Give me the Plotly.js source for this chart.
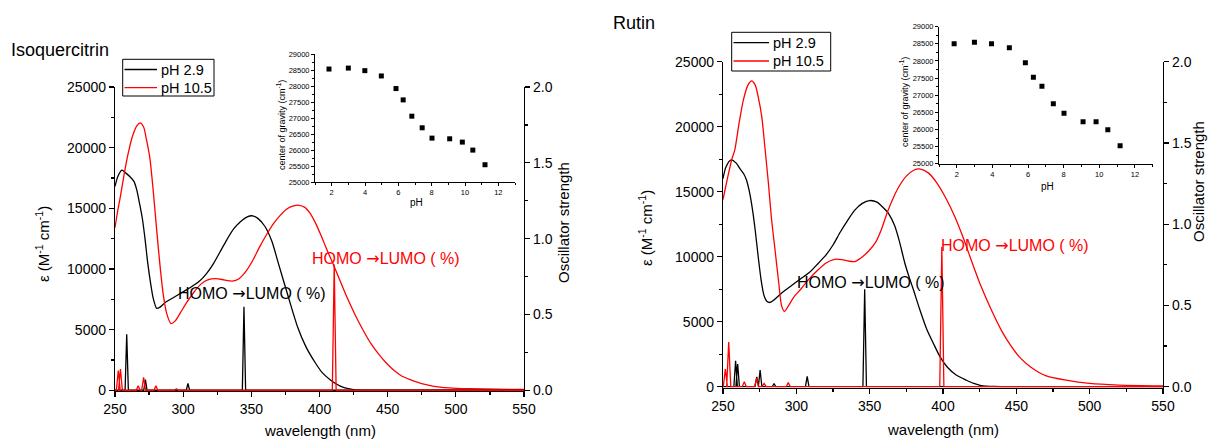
<!DOCTYPE html>
<html><head><meta charset="utf-8">
<script src="https://cdn.plot.ly/plotly-3.0.1.min.js"></script>
<style>html,body{margin:0;padding:0;background:#fff}#chart{width:1213px;height:441px}</style>
</head><body><div id="chart"></div><script>
// ---------- Isoquercitrin absorption spectra ----------
const isoAcidWl  = [250,252,255,258,261,264,266,268,270,272,274,276,278,280.6,283,287,293,299,305,312,317,322,327,332,337,342,347,351,355,360,365,370,377,384,390,397,402,408,413,418,425,435,450,550];
const isoAcidEps = [16800,17600,18150,17900,17600,17200,16500,15400,14200,12500,10500,8900,7600,6750,6850,7250,7650,8050,8450,9000,9600,10400,11400,12400,13300,13900,14300,14380,14150,13500,12300,10400,7750,5200,3600,2250,1450,850,480,220,60,10,0,0];
const isoBaseWl  = [250,252,254,257,260,263,266,268.5,271,273,275.5,278,280.5,283,285.5,288,291,294,298,303,308,313,318,324,330,336,341,346,351,356,361,366,371,376,381,385,389,393,397,401,405,410,415,420,426,432,438,444,449,455,460,466,475,483,495,510,530,550];
const isoBaseEps = [13400,14800,16000,18000,19700,21000,21800,22050,21700,20700,19200,16500,13300,10300,7800,6300,5500,5700,6400,7300,8100,8750,9100,9200,9100,9000,9200,9800,10700,11800,12800,13700,14400,14950,15200,15250,15100,14600,13800,12800,11700,10400,9050,7700,6250,4950,3800,2900,2250,1600,1200,900,550,350,200,130,90,70];
// calculated transitions (oscillator strength)
const isoAcidStickWl = [258.6,272.3,303.5,344.6];
const isoAcidStickF  = [0.37,0.07,0.045,0.55];
const isoBaseStickWl = [252.4,254.0,267,271,280,295,410.8];
const isoBaseStickF  = [0.13,0.14,0.03,0.085,0.03,0.01,0.83];
// inset: centre of gravity vs pH
const isoPH  = [1.84,3.0,3.99,4.98,5.86,6.29,6.81,7.43,8.02,9.08,9.84,10.47,11.2];
const isoCOG = [28530,28560,28480,28314,27920,27566,27057,26694,26371,26350,26247,25997,25540];

// ---------- Rutin absorption spectra ----------
const rutAcidWl  = [250,252,255.5,259,262,264,266,268,270,272,274,276,278,280,282,285,290,297,303,309,315,320,325,330,335,340,345,350,355,359,363,367,370,374,377,380,384,389,394,398,403,409,416,421,426,435,450,550];
const rutAcidEps = [16000,16900,17450,17200,16700,16400,15900,15000,13700,12000,10000,8200,7000,6550,6480,6700,7200,7800,8300,8800,9500,10100,10900,11900,12800,13600,14100,14320,14200,13800,13300,12400,11300,9500,8400,7400,6000,4400,3200,2300,1500,900,500,250,90,20,0,0];
const rutBaseWl  = [250,253,256,258,261,264,267,269.5,272,274,276.4,278.5,281,283,285.5,288,290,292,295,299,303,308,314,320,326,331,336,340,344,349,354,358,362,366,370,375,380,384,390,396,402,408,414,420,426,433,440,446,452,460,470,484,500,520,550];
const rutBaseEps = [14400,16000,17500,18200,20300,22100,23200,23530,23200,22300,20800,18500,15600,13000,10500,8000,6200,5790,6300,7000,7500,8200,8900,9500,9800,9780,9650,9630,9900,10400,11100,12100,13400,14500,15400,16200,16650,16750,16450,15650,14500,13100,11400,9500,7700,5900,4300,3200,2300,1500,850,500,250,130,70];
const rutAcidStickWl = [258.6,260.0,273,275.3,284.8,307.4,346.6];
const rutAcidStickF  = [0.16,0.14,0.06,0.103,0.02,0.063,0.60];
const rutBaseStickWl = [251.6,253.9,264.5,273,278,294.5,399.2];
const rutBaseStickF  = [0.108,0.275,0.03,0.052,0.02,0.025,0.86];
const rutPH  = [1.85,2.99,3.95,4.95,5.85,6.30,6.78,7.42,8.02,9.09,9.82,10.48,11.17];
const rutCOG = [28504,28543,28504,28387,27949,27521,27258,26752,26470,26226,26226,25993,25526];

const seriesNames = ['pH 2.9','pH 10.5'];

// ---------- helpers ----------
const W = 1213, H = 441;
const px = x => x / W, py = y => 1 - y / H;
const FONT = 'Liberation Sans, Arial, sans-serif';
const BLACK = '#000000', RED = '#ff0000';
const seriesColors = [BLACK, RED];
const ARROW = '<span style="font-family:DejaVu Sans">→</span>';
const HL = 'HOMO ' + ARROW + 'LUMO ( %)';

function stickTrace(pos, f, hw, color, xa, ya) {
  const xs = [250], ys = [0];
  pos.forEach((p, i) => { xs.push(p - hw, p, p + hw); ys.push(0, f[i], 0); });
  xs.push(550); ys.push(0);
  return {x: xs, y: ys, type: 'scatter', mode: 'lines', xaxis: xa, yaxis: ya,
          line: {color: color, width: 1.3}, showlegend: false, hoverinfo: 'skip'};
}
function specTrace(x, y, name, color, xa, ya) {
  return {x: x, y: y, name: name, type: 'scatter', mode: 'lines', xaxis: xa, yaxis: ya,
          line: {color: color, width: 1.3, shape: 'spline', smoothing: 0.7}, showlegend: false};
}
function insetTrace(x, y, xa, ya) {
  return {x: x, y: y, type: 'scatter', mode: 'markers', xaxis: xa, yaxis: ya,
          marker: {symbol: 'square', size: 5, color: BLACK}, showlegend: false};
}

const traces = [
  stickTrace(isoAcidStickWl, isoAcidStickF, 1.2, BLACK, 'x', 'y2'),
  stickTrace(isoBaseStickWl, isoBaseStickF, 1.4, RED, 'x', 'y2'),
  specTrace(isoAcidWl, isoAcidEps, seriesNames[0], BLACK, 'x', 'y'),
  specTrace(isoBaseWl, isoBaseEps, seriesNames[1], RED, 'x', 'y'),
  stickTrace(rutAcidStickWl, rutAcidStickF, 1.2, BLACK, 'x2', 'y4'),
  stickTrace(rutBaseStickWl, rutBaseStickF, 1.4, RED, 'x2', 'y4'),
  specTrace(rutAcidWl, rutAcidEps, seriesNames[0], BLACK, 'x2', 'y3'),
  specTrace(rutBaseWl, rutBaseEps, seriesNames[1], RED, 'x2', 'y3'),
  insetTrace(isoPH, isoCOG, 'x3', 'y5'),
  insetTrace(rutPH, rutCOG, 'x4', 'y6')
];

const axBase = {showline: true, linecolor: BLACK, linewidth: 1.2, showgrid: false, zeroline: false,
  ticks: 'outside', ticklen: 5, tickwidth: 1.2, tickcolor: BLACK,
  tickfont: {family: FONT, size: 14, color: BLACK}};
const mainX = (dom, anchor) => Object.assign({}, axBase, {domain: dom, anchor: anchor, range: [250, 550],
  tickvals: [250,300,350,400,450,500,550], minor: {dtick: 25, tick0: 250, ticks: 'outside', ticklen: 3, tickcolor: BLACK}});
const epsY = (dom, anchor) => Object.assign({}, axBase, {domain: dom, anchor: anchor, range: [-60, 25000],
  tickvals: [0,5000,10000,15000,20000,25000], tickformat: 'd',
  minor: {dtick: 2500, tick0: 0, ticks: 'outside', ticklen: 3, tickcolor: BLACK}});
const oscY = (over, anchor) => Object.assign({}, axBase, {overlaying: over, anchor: anchor, side: 'right',
  range: [-0.0048, 2], tickvals: [0,0.5,1,1.5,2], tickformat: '.1f',
  minor: {dtick: 0.25, tick0: 0, ticks: 'outside', ticklen: 3, tickcolor: BLACK}});
const insBase = {showline: true, linecolor: BLACK, linewidth: 1, showgrid: false, zeroline: false,
  ticks: 'outside', ticklen: 3, tickwidth: 1, tickcolor: BLACK,
  tickfont: {family: FONT, size: 7.5, color: BLACK}};
const insX = (dom, anchor) => Object.assign({}, insBase, {domain: dom, anchor: anchor, range: [1, 13],
  tickvals: [2,4,6,8,10,12], minor: {dtick: 1, tick0: 1, ticks: 'outside', ticklen: 2, tickcolor: BLACK}});
const insY = (dom, anchor) => Object.assign({}, insBase, {domain: dom, anchor: anchor, range: [25000, 29000],
  dtick: 500, tick0: 25000, tickformat: 'd',
  minor: {dtick: 250, ticks: 'outside', ticklen: 2, tickcolor: BLACK}});

function ann(text, x, y, size, color, angle, xanchor) {
  return {text: text, x: px(x), y: py(y), xref: 'paper', yref: 'paper', showarrow: false,
    xanchor: xanchor || 'center', yanchor: 'middle', textangle: angle || 0,
    font: {family: FONT, size: size, color: color || BLACK}};
}

// legend boxes drawn as shapes + text (box, sample lines, labels)
function legendParts(x0, y0, x1, y1, lineX0, lineX1, textX, rowY) {
  const shapes = [{type: 'rect', xref: 'paper', yref: 'paper', x0: px(x0), x1: px(x1), y0: py(y1), y1: py(y0),
    line: {color: BLACK, width: 1}, fillcolor: '#ffffff', layer: 'above'}];
  const anns = [];
  seriesNames.forEach((name, i) => {
    shapes.push({type: 'line', xref: 'paper', yref: 'paper', x0: px(lineX0), x1: px(lineX1), y0: py(rowY[i]), y1: py(rowY[i]),
      line: {color: seriesColors[i], width: 1.3}, layer: 'above'});
    anns.push(ann(name, textX, rowY[i], 14.5, BLACK, 0, 'left'));
  });
  return {shapes, anns};
}
const legL = legendParts(122.7, 59.3, 214, 96, 124.5, 157, 159, [69.5, 87.7]);
const legR = legendParts(731.7, 32.3, 830.7, 71, 733.5, 769, 771, [42.7, 61]);

const layout = {
  width: W, height: H, margin: {l: 0, r: 0, t: 0, b: 0},
  paper_bgcolor: '#ffffff', plot_bgcolor: 'rgba(0,0,0,0)',
  font: {family: FONT, color: BLACK},
  showlegend: false,
  xaxis: mainX([px(115), px(524)], 'y'),
  yaxis: epsY([py(391), py(87)], 'x'),
  yaxis2: oscY('y', 'x'),
  xaxis2: mainX([px(723), px(1163)], 'y3'),
  yaxis3: epsY([py(387.5), py(61.7)], 'x2'),
  yaxis4: oscY('y3', 'x2'),
  xaxis3: insX([px(315), px(515)], 'y5'),
  yaxis5: insY([py(182), py(54)], 'x3'),
  xaxis4: insX([px(939), px(1152.7)], 'y6'),
  yaxis6: insY([py(163.7), py(26.7)], 'x4'),
  shapes: legL.shapes.concat(legR.shapes),
  annotations: [
    ann('Isoquercitrin', 9, 50, 18, BLACK, 0, 'left'),
    ann('Rutin', 611, 23, 18, BLACK, 0, 'left'),
    ann('wavelength (nm)', 320, 430, 15),
    ann('wavelength (nm)', 943, 429, 15),
    ann('ε (M<sup>-1</sup> cm<sup>-1</sup>)', 42, 244, 15, BLACK, -90),
    ann('ε (M<sup>-1</sup> cm<sup>-1</sup>)', 645, 228, 15, BLACK, -90),
    ann('Oscillator strength', 563, 223, 15, BLACK, -90),
    ann('Oscillator strength', 1198, 182, 15, BLACK, -90),
    ann(HL, 252, 293, 16, BLACK),
    ann(HL, 386, 258, 16, RED),
    ann(HL, 871, 282, 16, BLACK),
    ann(HL, 1015, 245, 16, RED),
    ann('center of gravity (cm<sup>-1</sup>)', 281, 125, 9, BLACK, -90),
    ann('center of gravity (cm<sup>-1</sup>)', 904, 102, 9, BLACK, -90),
    ann('pH', 416, 203, 10),
    ann('pH', 1047, 187, 10)
  ].concat(legL.anns, legR.anns)
};

Plotly.newPlot('chart', traces, layout, {displayModeBar: false, staticPlot: true});
</script></body></html>
